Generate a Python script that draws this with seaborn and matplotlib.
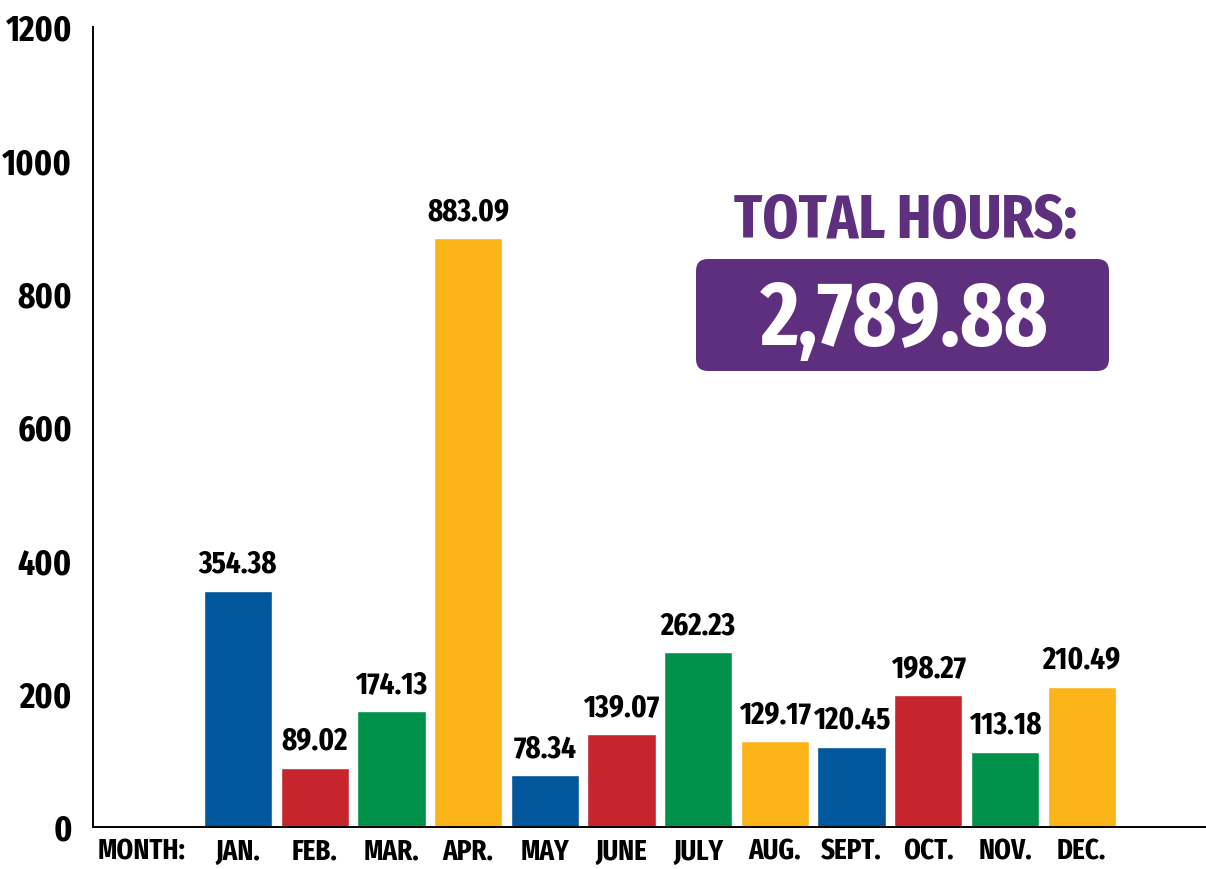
import matplotlib
matplotlib.use("Agg")
import matplotlib.pyplot as plt
import matplotlib.transforms as mtransforms
from matplotlib.patches import FancyBboxPatch
import pandas as pd
import seaborn as sns

months = ["JAN.", "FEB.", "MAR.", "APR.", "MAY", "JUNE", "JULY", "AUG.", "SEPT.", "OCT.", "NOV.", "DEC."]
hours = [354.38, 89.02, 174.13, 883.09, 78.34, 139.07, 262.23, 129.17, 120.45, 198.27, 113.18, 210.49]
total_label = "2,789.88"

blue, red, green, yellow = "#00579B", "#C7252D", "#00924A", "#FBB518"
purple = "#5F2F7F"
bar_colors = [blue, red, green, yellow] * 3

sns.set_style("white")
# condensed bold face, fall back to DejaVu if missing
plt.rcParams['font.family'] = ['Fira Sans Extra Condensed', 'DejaVu Sans']
plt.rcParams['font.weight'] = 'bold'

df = pd.DataFrame({"month": months, "hours": hours})

fig = plt.figure(figsize=(12.06, 8.69), dpi=100)
ax = fig.add_axes([93 / 1206, 42 / 869, 1 - 93 / 1206, 800 / 869])

sns.barplot(data=df, x="month", y="hours", hue="month", palette=bar_colors,
            order=months, hue_order=months, legend=False, width=0.89,
            saturation=1, ax=ax)

# value labels above the bars
for i, v in enumerate(hours):
    ax.annotate(f"{v:.2f}", (i, v), xytext=(0, 8), textcoords="offset points",
                ha="center", va="bottom", fontsize=22.5, fontweight="bold", color="black")

ax.set_ylim(0, 1200)
ax.set_xlim(-1.89, 12.62)
ax.set_yticks(range(0, 1201, 200))
ax.set_xticks([-1.26] + list(range(12)), ["MONTH:"] + months)
ax.tick_params(axis="y", direction="in", length=20, width=1.4, pad=15, labelsize=26,
               color="black", labelcolor="black")
ax.tick_params(axis="x", length=0, pad=8, labelsize=21, labelcolor="black")
for lab in ax.get_yticklabels() + ax.get_xticklabels():
    lab.set_fontweight("bold")
ax.set_xlabel("")
ax.set_ylabel("")

sns.despine(ax=ax)
for s in ["left", "bottom"]:
    ax.spines[s].set_linewidth(1.4)
    ax.spines[s].set_color("black")

# total hours badge
box = FancyBboxPatch((696, 498), 413, 112, boxstyle="round,pad=0,rounding_size=12",
                     transform=mtransforms.IdentityTransform(), facecolor=purple,
                     edgecolor="none", zorder=5)
fig.patches.append(box)
fig.text(906 / 1206, 1 - 238 / 869, "TOTAL HOURS:", ha="center", va="baseline",
         fontsize=45, fontweight="bold", color=purple)
fig.text(905 / 1206, 1 - 345 / 869, total_label, ha="center", va="baseline",
         fontsize=65, fontweight="bold", color="white", zorder=6)

fig.savefig("out.png", dpi=100)
